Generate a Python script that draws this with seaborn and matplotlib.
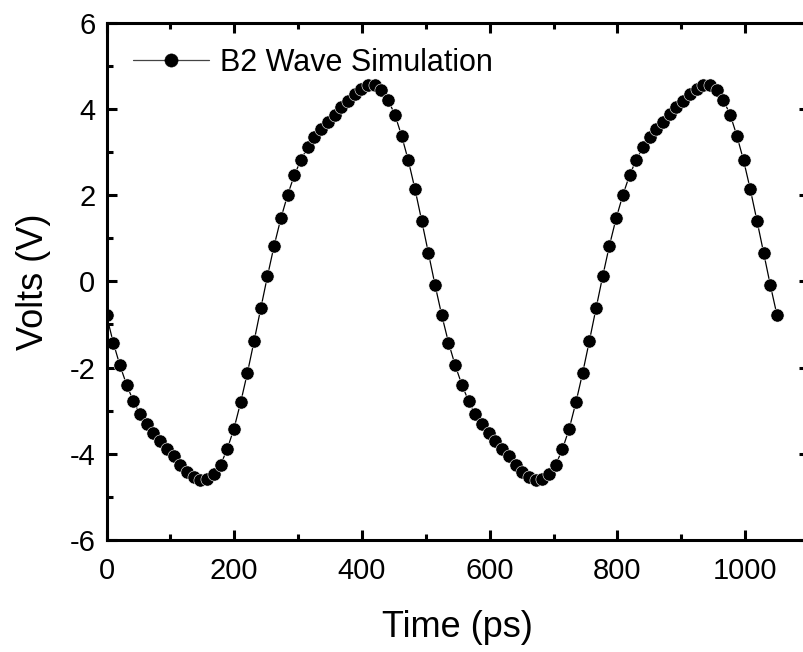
import numpy as np
import pandas as pd
import matplotlib
matplotlib.use("Agg")
import matplotlib.pyplot as plt
import seaborn as sns
from matplotlib.ticker import MultipleLocator

# ---- data ----
time_ps = np.arange(0, 1050.1, 10.5)  # sampling grid, 101 samples
volts = [
    -0.79, -1.42, -1.95, -2.40, -2.78, -3.08, -3.32, -3.52, -3.70, -3.88,
    -4.06, -4.25, -4.42, -4.54, -4.60, -4.59, -4.48, -4.26, -3.89, -3.42,
    -2.81, -2.13, -1.39, -0.63, 0.12, 0.83, 1.46, 2.00, 2.46, 2.82,
    3.11, 3.34, 3.54, 3.69, 3.87, 4.05, 4.19, 4.35, 4.47, 4.55,
    4.55, 4.43, 4.20, 3.87, 3.38, 2.81, 2.14, 1.41, 0.66, -0.09,
    -0.79, -1.42, -1.95, -2.40, -2.78, -3.08, -3.32, -3.52, -3.70, -3.88,
    -4.06, -4.25, -4.42, -4.54, -4.60, -4.59, -4.46, -4.25, -3.89, -3.42,
    -2.81, -2.13, -1.39, -0.63, 0.12, 0.83, 1.46, 2.00, 2.46, 2.82,
    3.11, 3.34, 3.54, 3.70, 3.89, 4.05, 4.19, 4.35, 4.47, 4.55,
    4.55, 4.43, 4.20, 3.87, 3.38, 2.81, 2.14, 1.41, 0.66, -0.09,
    -0.79,
]
series_label = "B2 Wave Simulation"
x_label = "Time (ps)"
y_label = "Volts (V)"
x_ticks = [0, 200, 400, 600, 800, 1000]
y_ticks = [-6, -4, -2, 0, 2, 4, 6]

df = pd.DataFrame({"t": time_ps, "v": volts})

sns.set_style("ticks")
plt.rcParams["font.family"] = ["Liberation Sans", "DejaVu Sans"]
plt.rcParams["axes.unicode_minus"] = False
for k in ["text.color", "axes.labelcolor", "xtick.color", "ytick.color"]:
    plt.rcParams[k] = "black"

fig = plt.figure(figsize=(8.04, 6.52), dpi=100)
ax = fig.add_axes([0.1325, 0.1718, 0.8737, 0.7934])

sns.lineplot(data=df, x="t", y="v", ax=ax, color="black", linewidth=0.9,
             marker="o", markersize=9.5, markeredgecolor="white",
             markeredgewidth=0.4, markerfacecolor="black",
             label=series_label, sort=False)

ax.set_xlim(0, 1100)
ax.set_ylim(-6, 6)
ax.set_xticks(x_ticks)
ax.set_yticks(y_ticks)
ax.xaxis.set_minor_locator(MultipleLocator(100))
ax.yaxis.set_minor_locator(MultipleLocator(1))

for sp in ax.spines.values():
    sp.set_linewidth(2.2)
    sp.set_color("black")

ax.tick_params(which="both", direction="in", top=True, right=True,
               width=2.2, color="black")
ax.tick_params(which="major", length=7.5, labelsize=21)
ax.tick_params(axis="x", which="major", pad=12)
ax.tick_params(axis="y", which="major", pad=8)
ax.tick_params(which="minor", length=4)

ax.set_xlabel(x_label, fontsize=26, labelpad=18)
ax.set_ylabel(y_label, fontsize=26, labelpad=13)

leg = ax.legend(loc="upper left", bbox_to_anchor=(0.02, 0.975), frameon=False,
                fontsize=22, handlelength=2.5, handletextpad=0.35,
                borderaxespad=0.0)
for h in leg.get_lines():
    h.set_color("#444444")
    h.set_markerfacecolor("black")
    h.set_markeredgecolor("black")

fig.savefig("out.png", dpi=100)
